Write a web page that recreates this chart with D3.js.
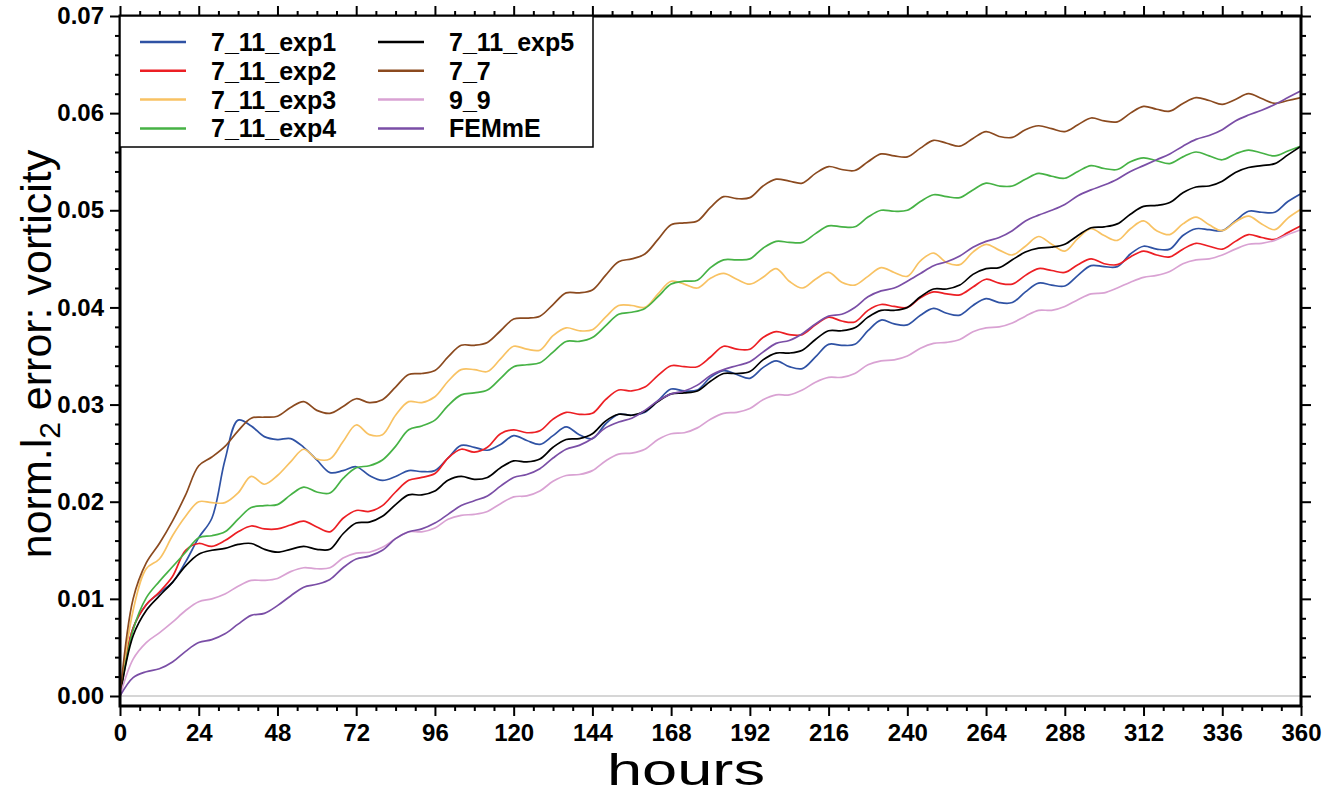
<!DOCTYPE html>
<html>
<head>
<meta charset="utf-8">
<title>norm. l2 error: vorticity</title>
<style>
body { margin: 0; background: #fff; }
svg { display: block; font-family: "Liberation Sans", Arial, Helvetica, sans-serif; }
</style>
</head>
<body>
<div id="chart"></div>
<script src="https://cdn.jsdelivr.net/npm/d3@7/dist/d3.min.js"></script>
<script>

// sample times (hours)
var hours = [0,4,8,12,16,20,24,28,32,36,40,44,48,52,56,60,64,68,72,76,80,84,88,92,96,100,
  104,108,112,116,120,124,128,132,136,140,144,148,152,156,160,164,168,172,176,180,184,188,
  192,196,200,204,208,212,216,220,224,228,232,236,240,244,248,252,256,260,264,268,272,276,
  280,284,288,292,296,300,304,308,312,316,320,324,328,332,336,340,344,348,352,356,360];

var exp1 = [0,0.0070,0.0094,0.0106,0.0117,0.0138,0.0163,0.0183,0.0243,0.0284,0.0278,0.0267,
  0.0264,0.0265,0.0256,0.0243,0.0230,0.0232,0.0236,0.0227,0.0222,0.0226,0.0232,0.0231,0.0232,
  0.0245,0.0258,0.0256,0.0253,0.0259,0.0268,0.0263,0.0259,0.0268,0.0277,0.0269,0.0265,0.0280,
  0.0290,0.0289,0.0292,0.0304,0.0316,0.0314,0.0315,0.0328,0.0335,0.0331,0.0327,0.0338,0.0345,
  0.0339,0.0337,0.0349,0.0362,0.0361,0.0362,0.0376,0.0387,0.0383,0.0382,0.0392,0.0399,0.0394,
  0.0392,0.0402,0.0409,0.0405,0.0405,0.0416,0.0425,0.0423,0.0422,0.0433,0.0443,0.0442,0.0442,
  0.0455,0.0463,0.0460,0.0460,0.0474,0.0481,0.0480,0.0479,0.0489,0.0499,0.0498,0.0498,0.0509,0.0517];

var exp2 = [0,0.0070,0.0094,0.0107,0.0123,0.0150,0.0157,0.0154,0.0160,0.0169,0.0175,0.0172,
  0.0172,0.0176,0.0180,0.0174,0.0169,0.0183,0.0191,0.0190,0.0196,0.0210,0.0222,0.0225,0.0229,
  0.0245,0.0254,0.0251,0.0256,0.0270,0.0274,0.0271,0.0273,0.0285,0.0292,0.0290,0.0291,0.0305,
  0.0315,0.0314,0.0318,0.0330,0.0340,0.0339,0.0339,0.0349,0.0360,0.0357,0.0357,0.0369,0.0375,
  0.0372,0.0372,0.0382,0.0390,0.0386,0.0385,0.0397,0.0403,0.0401,0.0400,0.0410,0.0416,0.0414,
  0.0413,0.0421,0.0429,0.0425,0.0424,0.0433,0.0440,0.0438,0.0436,0.0444,0.0450,0.0445,0.0444,
  0.0452,0.0458,0.0454,0.0452,0.0460,0.0466,0.0463,0.0460,0.0468,0.0475,0.0472,0.0470,0.0477,0.0484];

var exp3 = [0,0.0088,0.0131,0.0141,0.0165,0.0185,0.0200,0.0199,0.0199,0.0209,0.0226,0.0218,
  0.0227,0.0241,0.0254,0.0244,0.0244,0.0262,0.0279,0.0269,0.0269,0.0289,0.0303,0.0302,0.0308,
  0.0324,0.0336,0.0336,0.0334,0.0347,0.0360,0.0357,0.0356,0.0371,0.0379,0.0376,0.0377,0.0390,
  0.0402,0.0402,0.0400,0.0414,0.0427,0.0424,0.0420,0.0430,0.0435,0.0429,0.0424,0.0431,0.0440,
  0.0427,0.0420,0.0429,0.0436,0.0426,0.0423,0.0432,0.0441,0.0436,0.0432,0.0448,0.0456,0.0446,
  0.0444,0.0457,0.0465,0.0459,0.0454,0.0463,0.0473,0.0465,0.0458,0.0471,0.0481,0.0474,0.0469,
  0.0481,0.0489,0.0479,0.0475,0.0486,0.0493,0.0485,0.0479,0.0488,0.0494,0.0486,0.0480,0.0492,0.0501];

var exp4 = [0,0.0068,0.0101,0.0118,0.0133,0.0148,0.0163,0.0165,0.0169,0.0182,0.0194,0.0196,
  0.0197,0.0207,0.0215,0.0210,0.0209,0.0224,0.0235,0.0237,0.0243,0.0257,0.0274,0.0278,0.0284,
  0.0299,0.0310,0.0312,0.0315,0.0327,0.0339,0.0341,0.0343,0.0354,0.0365,0.0365,0.0369,0.0381,
  0.0393,0.0395,0.0399,0.0411,0.0424,0.0427,0.0428,0.0441,0.0449,0.0449,0.0450,0.0461,0.0468,
  0.0467,0.0467,0.0476,0.0484,0.0483,0.0483,0.0493,0.0500,0.0499,0.0500,0.0509,0.0516,0.0514,
  0.0513,0.0521,0.0528,0.0525,0.0525,0.0532,0.0538,0.0535,0.0533,0.0540,0.0546,0.0543,0.0542,
  0.0550,0.0554,0.0551,0.0548,0.0555,0.0560,0.0556,0.0552,0.0558,0.0562,0.0559,0.0556,0.0561,0.0566];

var exp5 = [0,0.0062,0.0088,0.0103,0.0117,0.0134,0.0146,0.0150,0.0152,0.0156,0.0157,0.0151,
  0.0148,0.0151,0.0154,0.0151,0.0151,0.0167,0.0178,0.0179,0.0185,0.0197,0.0207,0.0207,0.0211,
  0.0222,0.0226,0.0223,0.0225,0.0235,0.0242,0.0241,0.0244,0.0256,0.0264,0.0265,0.0270,0.0283,
  0.0290,0.0289,0.0293,0.0303,0.0311,0.0312,0.0314,0.0324,0.0332,0.0332,0.0334,0.0346,0.0353,
  0.0353,0.0356,0.0367,0.0376,0.0376,0.0379,0.0390,0.0397,0.0397,0.0400,0.0411,0.0419,0.0419,
  0.0423,0.0434,0.0440,0.0441,0.0449,0.0457,0.0461,0.0462,0.0465,0.0474,0.0482,0.0483,0.0486,
  0.0496,0.0504,0.0505,0.0508,0.0518,0.0524,0.0525,0.0530,0.0539,0.0544,0.0546,0.0548,0.0557,0.0566];

var res77 = [0,0.0100,0.0137,0.0157,0.0180,0.0207,0.0237,0.0246,0.0257,0.0273,0.0286,0.0287,
  0.0288,0.0297,0.0303,0.0294,0.0291,0.0298,0.0306,0.0302,0.0305,0.0318,0.0331,0.0332,0.0335,
  0.0349,0.0361,0.0361,0.0364,0.0376,0.0388,0.0389,0.0391,0.0403,0.0415,0.0415,0.0418,0.0433,
  0.0447,0.0450,0.0455,0.0470,0.0485,0.0487,0.0489,0.0503,0.0514,0.0512,0.0513,0.0525,0.0532,
  0.0530,0.0528,0.0538,0.0545,0.0542,0.0541,0.0550,0.0558,0.0556,0.0555,0.0564,0.0572,0.0569,
  0.0566,0.0574,0.0581,0.0576,0.0575,0.0583,0.0587,0.0584,0.0581,0.0588,0.0595,0.0592,0.0591,
  0.0600,0.0607,0.0604,0.0602,0.0610,0.0616,0.0613,0.0609,0.0614,0.0620,0.0615,0.0610,0.0613,0.0616];

var res99 = [0,0.0038,0.0055,0.0065,0.0076,0.0088,0.0097,0.0100,0.0105,0.0113,0.0119,0.0119,
  0.0121,0.0128,0.0132,0.0131,0.0132,0.0142,0.0147,0.0148,0.0153,0.0162,0.0169,0.0169,0.0173,
  0.0182,0.0186,0.0187,0.0190,0.0198,0.0205,0.0206,0.0211,0.0221,0.0227,0.0228,0.0232,0.0242,
  0.0249,0.0250,0.0254,0.0264,0.0270,0.0271,0.0276,0.0285,0.0291,0.0292,0.0296,0.0305,0.0310,
  0.0310,0.0315,0.0323,0.0328,0.0328,0.0332,0.0341,0.0345,0.0346,0.0350,0.0358,0.0363,0.0364,
  0.0367,0.0375,0.0379,0.0380,0.0384,0.0391,0.0397,0.0397,0.0401,0.0408,0.0414,0.0415,0.0420,
  0.0426,0.0431,0.0433,0.0437,0.0445,0.0449,0.0450,0.0454,0.0460,0.0465,0.0466,0.0469,0.0475,0.0480];

var femme = [0,0.0019,0.0025,0.0028,0.0035,0.0046,0.0055,0.0058,0.0064,0.0074,0.0083,0.0085,
  0.0093,0.0103,0.0112,0.0115,0.0120,0.0132,0.0141,0.0144,0.0150,0.0162,0.0169,0.0172,0.0178,
  0.0187,0.0196,0.0201,0.0206,0.0216,0.0225,0.0228,0.0234,0.0245,0.0254,0.0258,0.0265,0.0276,
  0.0282,0.0286,0.0294,0.0304,0.0311,0.0314,0.0320,0.0330,0.0336,0.0340,0.0344,0.0354,0.0363,
  0.0366,0.0373,0.0383,0.0391,0.0393,0.0400,0.0411,0.0417,0.0420,0.0427,0.0435,0.0443,0.0447,
  0.0453,0.0462,0.0468,0.0472,0.0479,0.0489,0.0495,0.0500,0.0506,0.0515,0.0521,0.0526,0.0532,
  0.0540,0.0546,0.0552,0.0558,0.0566,0.0573,0.0577,0.0583,0.0592,0.0598,0.0603,0.0609,0.0616,0.0623];

var names = ['7_11_exp1', '7_11_exp2', '7_11_exp3', '7_11_exp4',
             '7_11_exp5', '7_7', '9_9', 'FEMmE'];
var colors = ['#2f52a4', '#ec1f24', '#f8c263', '#46b245',
              '#000000', '#8b4a1f', '#d9a2d3', '#7a4ea6'];
var series = [exp1, exp2, exp3, exp4, exp5, res77, res99, femme];

var xMajor = [0,24,48,72,96,120,144,168,192,216,240,264,288,312,336,360];
var yMajor = [0,0.01,0.02,0.03,0.04,0.05,0.06,0.07];

var width = 1335, height = 795;
var plotL = 120, plotR = 1301, plotT = 16, plotB = 706;

var svg = d3.select('#chart').append('svg')
    .attr('width', width)
    .attr('height', height);

var x = d3.scaleLinear().domain([0, 360]).range([plotL, plotR]);
var y = d3.scaleLinear().domain([-0.00103, 0.07]).range([plotB, plotT]);

var xMinor = d3.range(0, 361, 6).filter(function(d) { return d % 24 !== 0; });
var yMinor = d3.range(0, 71, 2).filter(function(d) { return d % 10 !== 0; })
    .map(function(d) { return d / 1000; });

svg.append('defs').append('clipPath').attr('id', 'plotclip')
  .append('rect')
    .attr('x', plotL).attr('y', plotT)
    .attr('width', plotR - plotL).attr('height', plotB - plotT);

// zero reference line
svg.append('line')
    .attr('x1', plotL).attr('x2', plotR)
    .attr('y1', y(0)).attr('y2', y(0))
    .style('stroke', '#c8c8c8')
    .style('stroke-width', 1.6);

// data lines
var line = d3.line()
    .curve(d3.curveCatmullRom.alpha(0.5))
    .x(function(d, i) { return x(hours[i]); })
    .y(function(d) { return y(d); });

svg.append('g')
    .attr('clip-path', 'url(#plotclip)')
  .selectAll('path')
    .data(series)
    .enter()
  .append('path')
    .attr('d', line)
    .style('fill', 'none')
    .style('stroke', function(d, i) { return colors[i]; })
    .style('stroke-width', 1.7)
    .style('stroke-linejoin', 'round');

// axes: majors with labels, minors without
function styleAxis(g) {
  g.select('.domain').remove();
  g.selectAll('.tick line').style('stroke', '#000').style('stroke-width', 2);
  g.selectAll('.tick text')
      .style('font-family', '"Liberation Sans", Arial, Helvetica, sans-serif')
      .style('font-size', '24px')
      .style('font-weight', 'bold')
      .style('fill', '#000');
}

svg.append('g')
    .attr('transform', 'translate(0,' + plotB + ')')
    .call(d3.axisBottom(x).tickValues(xMajor).tickSize(10).tickPadding(8)
        .tickFormat(d3.format('d')))
    .call(styleAxis);
svg.append('g')
    .attr('transform', 'translate(0,' + plotB + ')')
    .call(d3.axisBottom(x).tickValues(xMinor).tickSize(5).tickFormat(''))
    .call(styleAxis);
svg.append('g')
    .attr('transform', 'translate(0,' + plotT + ')')
    .call(d3.axisTop(x).tickValues(xMajor).tickSize(10).tickFormat(''))
    .call(styleAxis);
svg.append('g')
    .attr('transform', 'translate(0,' + plotT + ')')
    .call(d3.axisTop(x).tickValues(xMinor).tickSize(5).tickFormat(''))
    .call(styleAxis);

svg.append('g')
    .attr('transform', 'translate(' + plotL + ',0)')
    .call(d3.axisLeft(y).tickValues(yMajor).tickSize(10).tickPadding(6)
        .tickFormat(d3.format('.2f')))
    .call(styleAxis);
svg.append('g')
    .attr('transform', 'translate(' + plotL + ',0)')
    .call(d3.axisLeft(y).tickValues(yMinor).tickSize(5).tickFormat(''))
    .call(styleAxis);
svg.append('g')
    .attr('transform', 'translate(' + plotR + ',0)')
    .call(d3.axisRight(y).tickValues(yMajor).tickSize(10).tickFormat(''))
    .call(styleAxis);
svg.append('g')
    .attr('transform', 'translate(' + plotR + ',0)')
    .call(d3.axisRight(y).tickValues(yMinor).tickSize(5).tickFormat(''))
    .call(styleAxis);

// frame
svg.append('rect')
    .attr('x', plotL).attr('y', plotT)
    .attr('width', plotR - plotL).attr('height', plotB - plotT)
    .style('fill', 'none')
    .style('stroke', '#000')
    .style('stroke-width', 3);

// legend
var legend = svg.append('g');
legend.append('rect')
    .attr('x', plotL).attr('y', plotT)
    .attr('width', 473).attr('height', 131)
    .style('fill', '#fff')
    .style('stroke', '#000')
    .style('stroke-width', 1.5);

var items = legend.selectAll('g.item')
    .data(names)
    .enter()
  .append('g')
    .attr('class', 'item')
    .attr('transform', function(d, i) {
      var col = Math.floor(i / 4), row = i % 4;
      return 'translate(' + (plotL + 20 + col * 238) + ',' + (plotT + 26 + row * 28.8) + ')';
    });
items.append('line')
    .attr('x1', 0).attr('x2', 46)
    .style('stroke', function(d, i) { return colors[i]; })
    .style('stroke-width', 2.5);
items.append('text')
    .attr('x', 71)
    .attr('dy', '0.36em')
    .style('font-size', '25px')
    .style('font-weight', 'bold')
    .text(function(d) { return d; });

// axis titles
svg.append('text')
    .attr('x', 686)
    .attr('y', 785)
    .attr('text-anchor', 'middle')
    .attr('textLength', 158)
    .attr('lengthAdjust', 'spacingAndGlyphs')
    .style('font-size', '45px')
    .text('hours');

var ylab = svg.append('text')
    .attr('transform', 'translate(51,' + 354 + ') rotate(-90)')
    .attr('text-anchor', 'middle')
    .style('font-size', '43px');
ylab.append('tspan').text('norm.l');
ylab.append('tspan').attr('dy', 9).style('font-size', '30px').text('2');
ylab.append('tspan').attr('dy', -9).text(' error: vorticity');

</script>
</body>
</html>
